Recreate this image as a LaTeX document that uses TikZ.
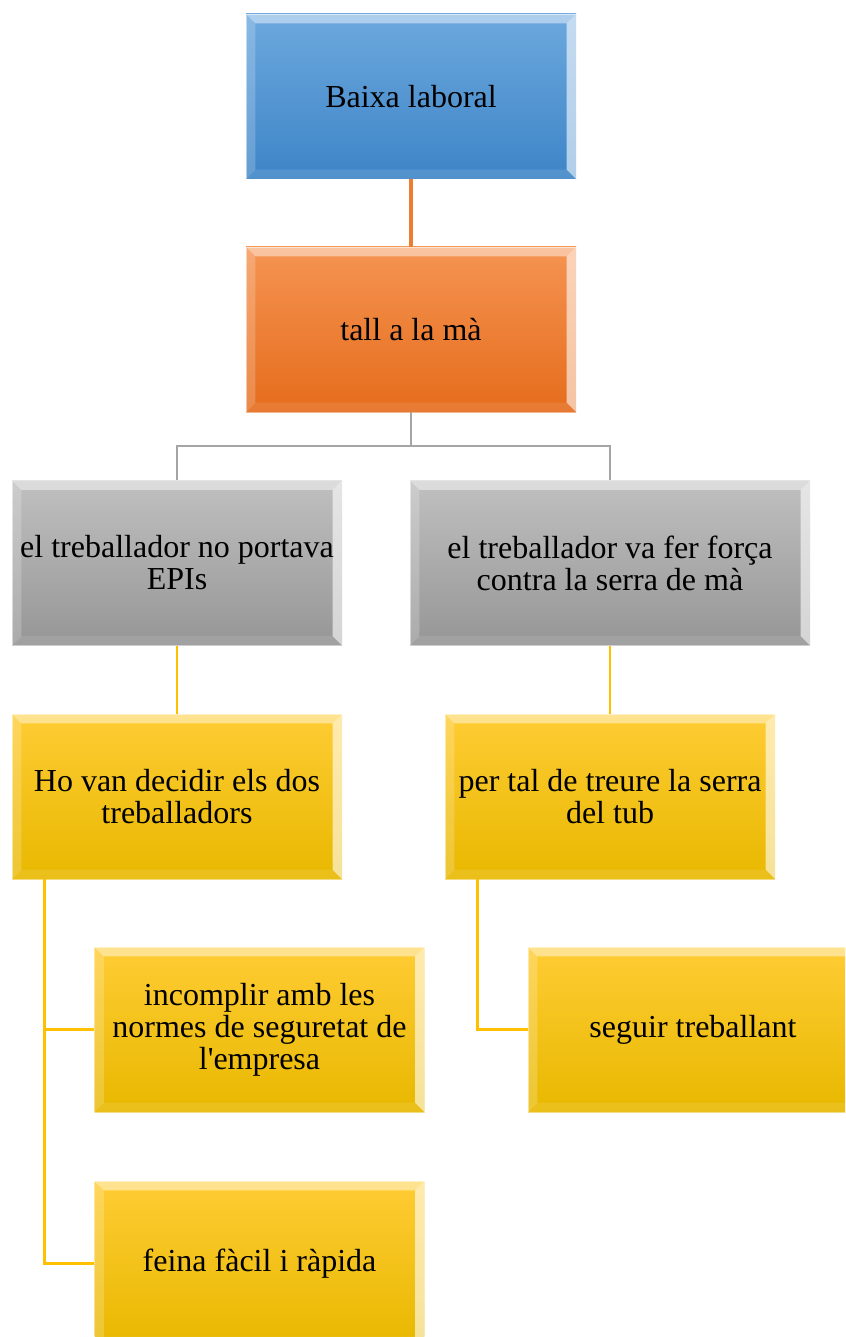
\documentclass[tikz,border=0pt]{standalone}
\usepackage{fontspec}
\setmainfont{Liberation Serif}
\usetikzlibrary{calc,shadings}
\definecolor{blauclar}{RGB}{108,168,222}
\definecolor{blaufosc}{RGB}{62,133,199}
\definecolor{taronjaclar}{RGB}{245,148,82}
\definecolor{taronjafosc}{RGB}{229,108,28}
\definecolor{grisclar}{RGB}{192,192,192}
\definecolor{grisfosc}{RGB}{150,150,150}
\definecolor{orclar}{RGB}{255,204,52}
\definecolor{ormig}{RGB}{255,194,0}
\definecolor{orfosc}{RGB}{232,184,0}
\definecolor{liniataronja}{RGB}{237,125,49}
\definecolor{liniagris}{RGB}{165,165,165}
\definecolor{liniaor}{RGB}{255,192,0}

\begin{document}
\begin{tikzpicture}[x=0.75pt, y=-0.75pt,
    caixa/.style={rectangle, minimum height=123.75pt, minimum width=247.5pt,
        align=center, inner sep=0pt,
        font=\fontsize{24}{24}\selectfont, draw=white, draw opacity=0.5, line width=0.6pt,
        path picture={
            % bisell
            \path[fill=white, fill opacity=0.45] (path picture bounding box.north west) -- (path picture bounding box.north east)
                -- ([shift={(-7pt,-7pt)}]path picture bounding box.north east) -- ([shift={(7pt,-7pt)}]path picture bounding box.north west) -- cycle;
            \path[fill=white, fill opacity=0.2] (path picture bounding box.north west) -- ([shift={(7pt,-7pt)}]path picture bounding box.north west)
                -- ([shift={(7pt,7pt)}]path picture bounding box.south west) -- (path picture bounding box.south west) -- cycle;
            \path[fill=white, fill opacity=0.6] (path picture bounding box.north east) -- ([shift={(-7pt,-7pt)}]path picture bounding box.north east)
                -- ([shift={(-7pt,7pt)}]path picture bounding box.south east) -- (path picture bounding box.south east) -- cycle;
            \path[fill=white, fill opacity=0.1] (path picture bounding box.south west) -- ([shift={(7pt,7pt)}]path picture bounding box.south west)
                -- ([shift={(-7pt,7pt)}]path picture bounding box.south east) -- (path picture bounding box.south east) -- cycle;
        }},
    blava/.style={caixa, top color=blauclar, bottom color=blaufosc},
    taronja/.style={caixa, top color=taronjaclar, bottom color=taronjafosc},
    grisa/.style={caixa, top color=grisclar, bottom color=grisfosc},
    daurada/.style={caixa, top color=orclar, middle color=ormig, bottom color=orfosc},
    ]
    \useasboundingbox (0,0) rectangle (845,1337);
    \clip (0,0) rectangle (845,1337);

    % nivell 1 i 2
    \node[blava] (baixa) at (411,96.5) {Baixa laboral};
    \node[taronja] (tall) at (411,329.5) {tall a la mà};
    \path[draw, liniataronja, line width=2.4pt] (baixa) -- (tall);

    % causes
    \node[grisa] (epis) at (177,563) {el treballador no portava\\EPIs};
    \node[grisa, minimum width=300pt] (forca) at (610,563) {el treballador va fer força\\contra la serra de mà};
    \coordinate (nus) at (411,446);
    \path[draw, liniagris, line width=2.2pt] (tall) -- (nus) -| (epis.north);
    \path[draw, liniagris, line width=2.2pt] (nus) -| (forca.north);

    % per què
    \node[daurada] (decidir) at (177,796.5) {Ho van decidir els dos\\treballadors};
    \node[daurada] (treure) at (610,796.5) {per tal de treure la serra\\del tub};
    \path[draw, liniaor, line width=2pt] (epis) -- (decidir);
    \path[draw, liniaor, line width=2pt] (forca) -- (treure);

    % fulles
    \node[daurada] (normes) at (259.5,1029.5) {incomplir amb les\\normes de seguretat de\\l\textquotesingle empresa};
    \node[daurada] (feina) at (259.5,1263.5) {feina fàcil i ràpida};
    \node[daurada] (seguir) at (693,1029.5) {seguir treballant};
    \path[draw, liniaor, line width=2pt] ([xshift=24.75pt]decidir.south west) |- (normes.west);
    \path[draw, liniaor, line width=2pt] ([xshift=24.75pt]decidir.south west) |- (feina.west);
    \path[draw, liniaor, line width=2pt] ([xshift=24.75pt]treure.south west) |- (seguir.west);
\end{tikzpicture}
\end{document}
